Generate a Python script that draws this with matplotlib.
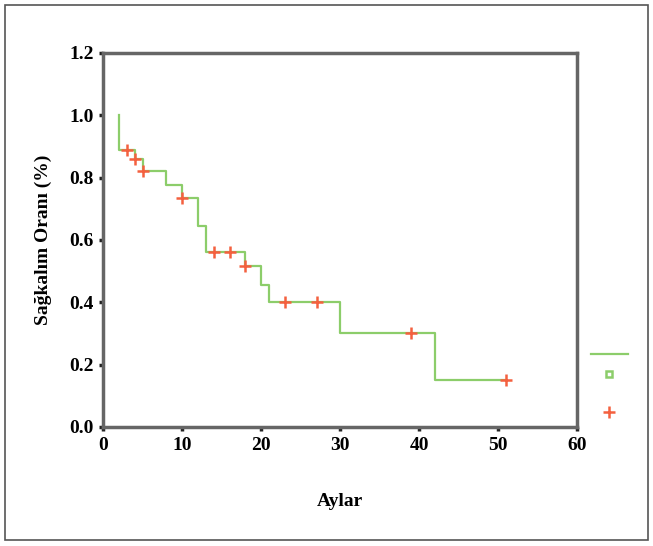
import matplotlib
matplotlib.use("Agg")
import matplotlib.pyplot as plt
from matplotlib.lines import Line2D
from matplotlib.patches import Rectangle

# Kaplan-Meier steps (time in months, survival after the step)
km_t = [2, 2, 4, 5, 8, 10, 12, 13, 18, 20, 21, 30, 42, 51]
km_s = [1.0, 0.89, 0.86, 0.82, 0.775, 0.735, 0.645, 0.56, 0.515, 0.455, 0.40, 0.30, 0.15, 0.15]

# censored observations
cens_t = [3, 4, 5, 10, 14, 16, 18, 23, 27, 39, 51]
cens_s = [0.89, 0.86, 0.82, 0.735, 0.56, 0.56, 0.515, 0.40, 0.40, 0.30, 0.15]

xticks = [0, 10, 20, 30, 40, 50, 60]
yticks = [0.0, 0.2, 0.4, 0.6, 0.8, 1.0, 1.2]

green = "#8ccd6a"
red = "#f4603f"

plt.rcParams["font.family"] = ["Liberation Serif", "DejaVu Serif"]

fig = plt.figure(figsize=(6.53, 5.46), dpi=100)
ax = fig.add_axes([0.158, 0.218, 0.726, 0.685])

ax.step(km_t, km_s, where="post", color=green, lw=1.6)
ax.plot(cens_t, cens_s, ls="none", marker="+", ms=8, mew=1.8, color=red)

ax.set_xlim(0, 60)
ax.set_ylim(0, 1.2)
ax.set_xticks(xticks)
ax.set_yticks(yticks)
ax.set_yticklabels([f"{v:.1f}" for v in yticks])
ax.tick_params(direction="out", length=3, width=2.5, color="#222222",
               labelsize=14, pad=4)
for lab in ax.get_xticklabels() + ax.get_yticklabels():
    lab.set_fontweight("bold")
for sp in ax.spines.values():
    sp.set_linewidth(2.5)
    sp.set_color("#666666")

ax.set_xlabel("Aylar", fontsize=14, fontweight="bold", labelpad=28)
ax.set_ylabel("Sağkalım Oranı (%)", fontsize=14, fontweight="bold", labelpad=12)

# legend without labels
handles = [
    Line2D([], [], color=green, lw=1.6),
    Line2D([], [], ls="none", marker="s", ms=5, mfc="white", mec=green, mew=1.8),
    Line2D([], [], ls="none", marker="none"),
    Line2D([], [], ls="none", marker="+", ms=8, mew=1.8, color=red),
]
fig.legend(handles, ["", "", "", ""], loc="upper left",
           bbox_to_anchor=(0.894, 0.373), frameon=False,
           handlelength=2.7, labelspacing=0.45, handletextpad=0,
           borderpad=0, fontsize=10)

fig.patches.append(Rectangle((0.008, 0.011), 0.984, 0.979, transform=fig.transFigure,
                             fill=False, edgecolor="#555555", lw=1.2))

fig.savefig("out.png", dpi=100)
